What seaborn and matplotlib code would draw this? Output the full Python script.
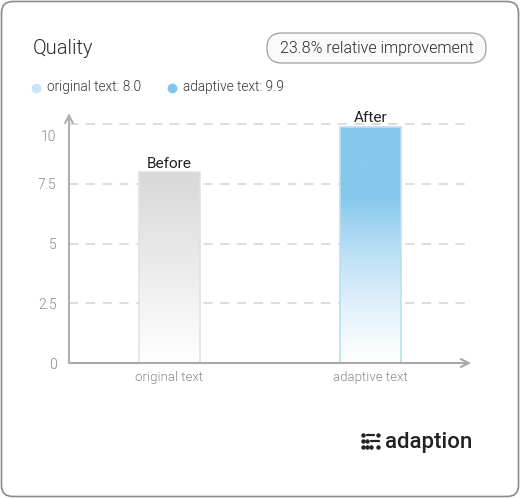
import numpy as np
import matplotlib
matplotlib.use("Agg")
import matplotlib.pyplot as plt
import seaborn as sns
from matplotlib.patches import FancyBboxPatch
from matplotlib.lines import Line2D
from matplotlib.colors import LinearSegmentedColormap
from matplotlib.transforms import ScaledTranslation

# ---- data ----
categories = ["original text", "adaptive text"]
scores = [8.0, 9.9]
bar_labels = ["Before", "After"]
legend_dot_colors = ["#c9e6f7", "#7fc6ee"]
title = "Quality"
badge = "23.8% relative improvement"
y_ticks = [0, 2.5, 5, 7.5, 10]
y_tick_labels = ["0", "2.5", "5", "7.5", "10"]

W, H = 520, 498

def px(x, y):
    # pixel (from top-left) -> figure fraction
    return x / W, 1 - y / H

sns.set_theme(style="white")
plt.rcParams["font.family"] = ["Roboto", "DejaVu Sans"]
plt.rcParams["font.weight"] = 300

fig = plt.figure(figsize=(W / 100, H / 100), dpi=100)
fig.patch.set_facecolor("white")

# card border
fig.add_artist(FancyBboxPatch(px(1.5, 496.5), 517 / W, 495 / H,
                              boxstyle="round,pad=0,rounding_size=0.022",
                              transform=fig.transFigure, fc="white",
                              ec="#8a8a8a", lw=1.2, zorder=0))

ax = fig.add_axes([69 / W, 135 / H, 402 / W, 250 / H])
ax.set_facecolor("none")

sns.barplot(x=categories, y=scores, hue=categories, order=categories,
            palette=["#dddddd", "#85c8ee"], width=0.3, legend=False, ax=ax)

ax.set_xlim(-0.5, 1.5)
ax.set_ylim(0, 10.47)

# gradient fills clipped to each bar
grad_maps = [
    LinearSegmentedColormap.from_list("g0", [(0, "#ffffff"), (0.1, "#fbfbfb"), (1, "#d8d8d8")]),
    LinearSegmentedColormap.from_list("g1", [(0, "#ffffff"), (0.15, "#eef7fd"),
                                             (0.45, "#bfe1f6"), (0.7, "#86c8ee"), (1, "#86c8ee")]),
]
edge_cols = ["#e2e2e2", "#b9e0f6"]
grad = np.linspace(0, 1, 256).reshape(-1, 1)
bars = [c.patches[0] for c in ax.containers]
for bar, cmap, ec in zip(bars, grad_maps, edge_cols):
    x0, w, h = bar.get_x(), bar.get_width(), bar.get_height()
    im = ax.imshow(grad, cmap=cmap, origin="lower", aspect="auto",
                   extent=(x0, x0 + w, 0, h), zorder=2)
    im.set_clip_path(bar)
    bar.set_facecolor("none")
    bar.set_edgecolor(ec)
    bar.set_linewidth(1.2)
    bar.set_zorder(3)

for cont, lab in zip(ax.containers, bar_labels):
    ax.bar_label(cont, labels=[lab], padding=1, fontsize=11, color="#222222",
                 fontweight="normal")

# grid
for v in y_ticks[1:]:
    ax.axhline(v, color="#d3d3d3", lw=1.1, ls=(0, (6, 5)), zorder=1)

ax.set_yticks(y_ticks, y_tick_labels)
ax.tick_params(axis="y", length=0, pad=9, labelsize=10, labelcolor="#8a8a8a")
ax.tick_params(axis="x", length=0, pad=6, labelsize=9.5, labelcolor="#8a8a8a")
top_lab = ax.get_yticklabels()[-1]
top_lab.set_transform(top_lab.get_transform() + ScaledTranslation(0, -0.11, fig.dpi_scale_trans))

for s in ax.spines.values():
    s.set_visible(False)
ax.set_xlabel("")
ax.set_ylabel("")

# axes with open arrow heads
ax.annotate("", xy=(1.0, 0), xytext=(0, 0), xycoords="axes fraction",
            arrowprops=dict(arrowstyle="->", color="#a8a8a8", lw=1.5,
                            mutation_scale=14, shrinkA=0, shrinkB=0), zorder=4)
ax.annotate("", xy=(0, 1.0), xytext=(0, 0), xycoords="axes fraction",
            arrowprops=dict(arrowstyle="->", color="#b0b0b0", lw=1.5,
                            mutation_scale=14, shrinkA=0, shrinkB=0), zorder=4)

# title and badge
fig.text(*px(33, 48), title, fontsize=14.5, color="#2a2a2a", va="center", ha="left")
fig.add_artist(FancyBboxPatch(px(267, 63), 219 / W, 30 / H,
                              boxstyle="round,pad=0,rounding_size=0.029",
                              transform=fig.transFigure, fc="#fafafa",
                              ec="#a8a8a8", lw=1.0))
fig.text(*px(376.5, 48), badge, fontsize=11.5, color="#2a2a2a", va="center", ha="center")

# legend row
legend_x = [36, 172]
for (lx, col, cat, val) in zip(legend_x, legend_dot_colors, categories, scores):
    fig.add_artist(Line2D([lx / W], [1 - 88 / H], marker="o", ms=6, color=col,
                          mec=col, transform=fig.transFigure))
    fig.text(*px(lx + 11, 87), f"{cat}: {val:.1f}", fontsize=9.8, color="#333333",
             va="center", ha="left")

# logo
logo_col = "#222222"
for (x0, x1, y) in [(363, 363, 435), (367, 374, 435), (378, 378, 435),
                    (363, 363, 441), (367, 367, 441), (371, 379, 441),
                    (363, 363, 447), (367, 367, 447), (371, 371, 447), (378, 378, 447)]:
    if x0 == x1:
        fig.add_artist(Line2D([x0 / W], [1 - y / H], marker="o", ms=2.2, color=logo_col,
                              transform=fig.transFigure))
    else:
        fig.add_artist(Line2D([x0 / W, x1 / W], [1 - y / H, 1 - y / H], lw=1.6,
                              color=logo_col, solid_capstyle="round",
                              transform=fig.transFigure))
fig.text(*px(385, 442), "adaption", fontsize=16, color=logo_col, fontweight="medium",
         va="center", ha="left")

fig.savefig("out.png", dpi=100)
